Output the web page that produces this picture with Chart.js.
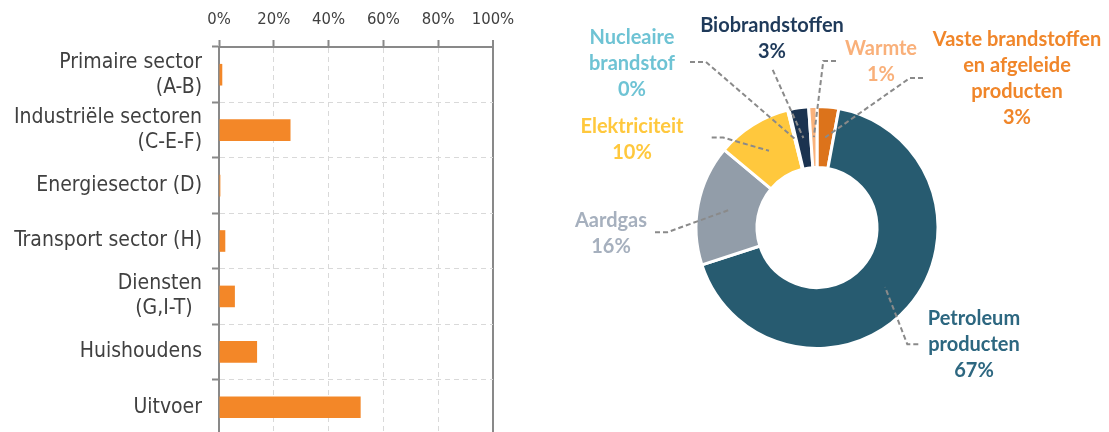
<!DOCTYPE html>
<html><head><meta charset="utf-8">
<script src="https://cdn.jsdelivr.net/npm/chart.js@4"></script>
<style>
html,body{margin:0;padding:0;background:#fff;overflow:hidden;width:1109px;height:432px;}
#bar{position:absolute;left:0;top:0;}
#donut{position:absolute;left:560px;top:0;}
</style></head><body>
<canvas id="bar" width="540" height="435"></canvas>
<canvas id="donut" width="549" height="432"></canvas>
<script>
// ---- data: left chart (share per sector, %) ----
const sectorLabels = [['Primaire sector','(A-B)'], ['Industriële sectoren','(C-E-F)'], 'Energiesector (D)', 'Transport sector (H)', ['Diensten','(G,I-T)\u2002'], 'Huishoudens', 'Uitvoer'];
const sectorShares = [1.2, 26.1, 0.5, 2.3, 5.8, 13.9, 51.7];
const axisTicks = [0, 20, 40, 60, 80, 100];

// ---- data: right chart (share per fuel, %) ----
const fuelLabels = ['Vaste brandstoffen en afgeleide producten', 'Petroleum producten', 'Aardgas', 'Elektriciteit', 'Nucleaire brandstof', 'Biobrandstoffen', 'Warmte'];
const fuelLabelLines = [['Vaste brandstoffen','en afgeleide','producten'], ['Petroleum','producten'], ['Aardgas'], ['Elektriciteit'], ['Nucleaire','brandstof'], ['Biobrandstoffen'], ['Warmte']];
const fuelShares = [2.9, 67.1, 16.1, 10.0, 0.2, 2.6, 1.1];

const fuelColors = ['#DC731B', '#275B70', '#929DA9', '#FFC83D', '#6BC3D6', '#1B3350', '#F9B27C'];
const fuelTextColors = ['#F0862A', '#2D6780', '#A6B0BE', '#FFC83D', '#6EC3D4', '#1F3A5A', '#F9B07A'];
// label block centre and leader start/elbow, relative to the doughnut centre (layout only)
const labelLayout = [
  {pos:[200,-148.6], start:[106,-149.6], elbow:[93,-149.6]},
  {pos:[157,117.2], start:[101.3,116.7], elbow:[90.3,116.7]},
  {pos:[-206,5.7], start:[-162,4.7], elbow:[-149.7,4.7]},
  {pos:[-185,-87.8], start:[-105.3,-89.9], elbow:[-93.7,-89.9]},
  {pos:[-185,-164.1], start:[-127,-165.6], elbow:[-111,-165.6]},
  {pos:[-45,-188.5], start:[-44.3,-157.6], elbow:[-44.3,-157.6]},
  {pos:[64,-165.9], start:[19,-166.6], elbow:[6.3,-166.6]}
];

const AXIS = '#898989', GRID = '#d9d9d9', TXT = '#404040';
const labelFont = "'DejaVu Sans Condensed', 'DejaVu Sans', sans-serif";

new Chart(document.getElementById('bar'), {
  type: 'bar',
  data: { labels: sectorLabels, datasets: [{ data: sectorShares, backgroundColor: '#F38728', barPercentage: 0.39, categoryPercentage: 1 }] },
  options: {
    indexAxis: 'y', responsive: false, animation: false,
    layout: { padding: { top: 0, right: 47, bottom: 0, left: 0 } },
    plugins: { legend: { display: false }, tooltip: { enabled: false } },
    scales: {
      x: {
        position: 'top', min: 0, max: 100,
        afterBuildTicks: s => { s.ticks = axisTicks.map(v => ({ value: v })); },
        afterFit: s => { s.height = 47; },
        ticks: { color: TXT, font: { family: labelFont, size: 16.5 }, padding: 10, callback: v => v + '%' },
        grid: {
          color: c => (c.tick && c.tick.value === 100) ? AXIS : GRID,
          lineWidth: c => (c.tick && c.tick.value === 100) ? 2 : 1,
          tickColor: AXIS, tickLength: 7, tickWidth: 2
        },
        border: { color: AXIS, width: 2, dash: c => (c.tick && c.tick.value === 100) ? [] : [5, 4] }
      },
      y: {
        afterFit: s => { s.width = 219; s.paddingTop = 0; s.paddingBottom = 0; },
        ticks: { color: TXT, autoSkip: false, font: { family: labelFont, size: 21, lineHeight: 1.18 }, padding: 10 },
        grid: { color: GRID, lineWidth: 1, tickColor: AXIS, tickLength: 7, tickWidth: 2, offset: true },
        border: { color: AXIS, width: 2, dash: [5, 4] }
      }
    }
  }
});

const leaderPlugin = {
  id: 'leaders',
  afterDatasetsDraw(chart) {
    const ctx = chart.ctx;
    const meta = chart.getDatasetMeta(0);
    const ds = chart.data.datasets[0].data;
    meta.data.forEach((arc, i) => {
      const cx = arc.x, cy = arc.y;
      const L = labelLayout[i];
      const p = arc.getCenterPoint();
      ctx.save();
      ctx.strokeStyle = '#8a8a8a';
      ctx.lineWidth = 2;
      ctx.setLineDash([5, 3]);
      ctx.beginPath();
      ctx.moveTo(cx + L.start[0], cy + L.start[1]);
      ctx.lineTo(cx + L.elbow[0], cy + L.elbow[1]);
      ctx.lineTo(p.x, p.y);
      ctx.stroke();
      ctx.restore();

      const lines = fuelLabelLines[i].concat([Math.round(ds[i]) + '%']);
      const lh = 26;
      ctx.save();
      ctx.font = "bold 20px Lato, 'Open Sans', sans-serif";
      ctx.fillStyle = fuelTextColors[i];
      ctx.textAlign = 'center';
      ctx.textBaseline = 'middle';
      const bx = cx + L.pos[0], by = cy + L.pos[1];
      lines.forEach((t, k) => {
        ctx.fillText(t, bx, by + (k - (lines.length - 1) / 2) * lh);
      });
      ctx.restore();
    });
  }
};

new Chart(document.getElementById('donut'), {
  type: 'doughnut',
  data: { labels: fuelLabels, datasets: [{ data: fuelShares, backgroundColor: fuelColors, borderColor: '#ffffff', borderWidth: 3 }] },
  options: {
    responsive: false, animation: false,
    radius: 121, cutout: '49.6%',
    layout: { padding: { top: 23, right: 35, bottom: 0, left: 0 } },
    plugins: { legend: { display: false }, tooltip: { enabled: false } }
  },
  plugins: [leaderPlugin]
});
</script>
</body></html>
